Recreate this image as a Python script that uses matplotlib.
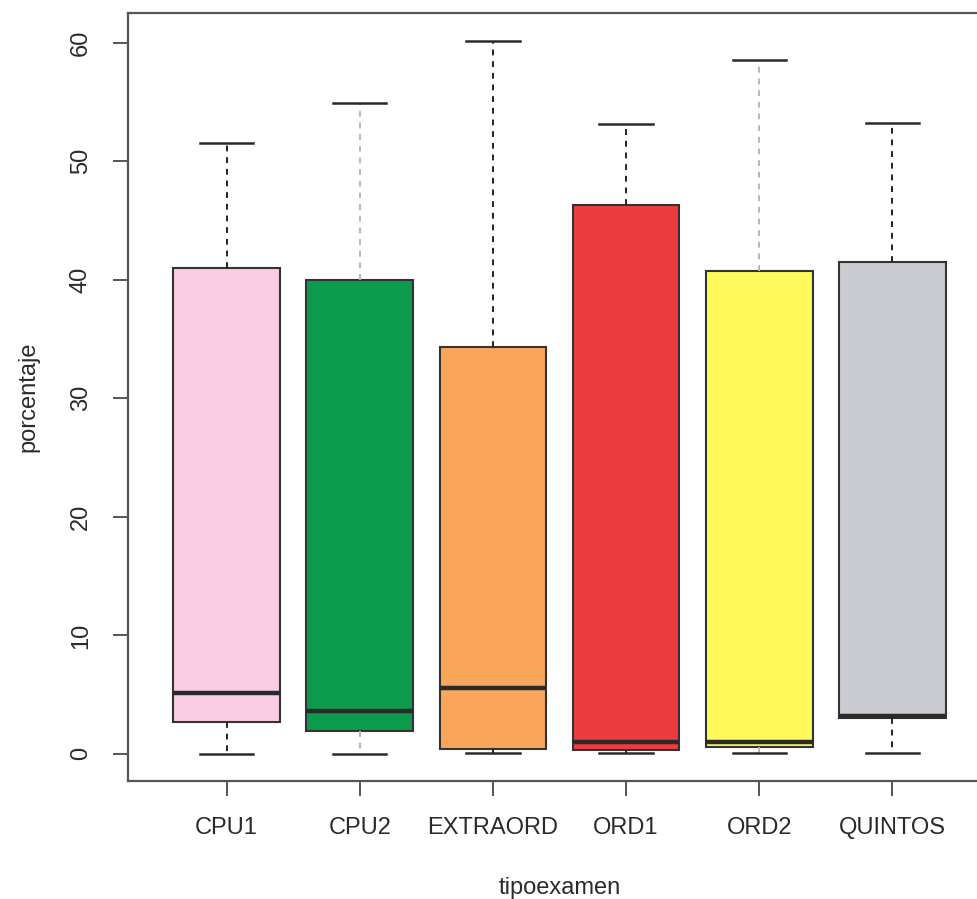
import numpy as np
import matplotlib
matplotlib.use("Agg")
import matplotlib.pyplot as plt

plt.rcParams['font.family'] = ['Liberation Sans', 'DejaVu Sans']

# boxplot summary
tipos = ['CPU1', 'CPU2', 'EXTRAORD', 'ORD1', 'ORD2', 'QUINTOS']
whislo = [0.0, 0.0, 0.1, 0.1, 0.1, 0.1]
q1 = [2.7, 1.9, 0.4, 0.3, 0.6, 3.0]
med = [5.1, 3.6, 5.6, 1.0, 1.0, 3.2]
q3 = [41.0, 40.0, 34.3, 46.3, 40.7, 41.5]
whishi = [51.5, 54.9, 60.1, 53.1, 58.5, 53.2]

colores = ['#f9cde3', '#0c9a4c', '#f9a55a', '#ee3b3d', '#fff95c', '#cbccd1']
whisk_col = ['#222222', '#b5b5bb', '#222222', '#222222', '#b5b5bb', '#222222']

stats = []
for i in range(len(tipos)):
    stats.append(dict(label=tipos[i], whislo=whislo[i], q1=q1[i], med=med[i],
                      q3=q3[i], whishi=whishi[i], fliers=[]))

fig = plt.figure(figsize=(9.78, 8.99), dpi=100)
ax = fig.add_axes([0.1309, 0.1313, 1.0133 - 0.1309, 0.9855 - 0.1313])

bp = ax.bxp(stats, positions=np.arange(1, 7), widths=0.8, patch_artist=True,
            boxprops=dict(edgecolor='#333333', linewidth=1.5),
            medianprops=dict(color='#2a2a2a', linewidth=3.2, solid_capstyle='butt'),
            whiskerprops=dict(linestyle=(0, (3, 3)), linewidth=1.4),
            capprops=dict(color='#2a2a2a', linewidth=1.8))

for patch, c in zip(bp['boxes'], colores):
    patch.set_facecolor(c)
for k, w in enumerate(bp['whiskers']):
    w.set_color(whisk_col[k // 2])

ax.set_xlim(0.26, 6.74)
ax.set_ylim(-2.28, 62.5)
ax.set_yticks([0, 10, 20, 30, 40, 50, 60])
ax.set_yticklabels(['0', '10', '20', '30', '40', '50', '60'], rotation=90, va='center')
ax.set_xticks(np.arange(1, 7))
ax.set_xticklabels(tipos)

ax.tick_params(axis='both', length=11, width=1.4, color='#555555', labelsize=17,
               labelcolor='#2a2a2a')
ax.tick_params(axis='x', pad=15)
ax.tick_params(axis='y', pad=15)

for s in ax.spines.values():
    s.set_color('#555555')
    s.set_linewidth(1.6)

ax.set_xlabel('tipoexamen', fontsize=17, color='#2a2a2a', labelpad=27)
ax.set_ylabel('porcentaje', fontsize=17, color='#2a2a2a', labelpad=22)

plt.savefig('out.png', dpi=100)
